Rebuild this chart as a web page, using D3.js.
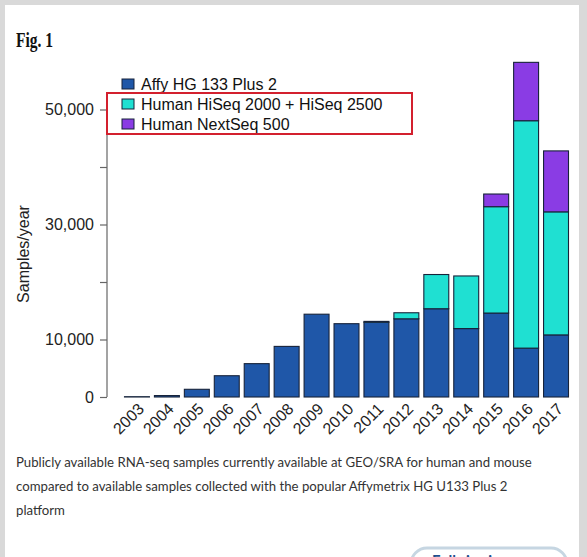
<!DOCTYPE html>
<html><head><meta charset="utf-8">
<script src="https://cdn.jsdelivr.net/npm/d3@7"></script>
<style>html,body{margin:0;padding:0;background:#fff;overflow:hidden}</style>
</head><body>
<svg id="c" width="587" height="557"></svg>
<script>
const years = ["2003","2004","2005","2006","2007","2008","2009","2010","2011","2012","2013","2014","2015","2016","2017"];
const affy    = [50, 250, 1340, 3700, 5800, 8800, 14400, 12750, 13000, 13600, 15350, 11900, 14600, 8500, 10800];
const hiseq   = [0, 0, 0, 0, 0, 0, 0, 0, 150, 1050, 5950, 9150, 18500, 39550, 21400];
const nextseq = [0, 0, 0, 0, 0, 0, 0, 0, 0, 0, 0, 0, 2200, 10150, 10600];
const seriesNames = ["Affy HG 133 Plus 2", "Human HiSeq 2000 + HiSeq 2500", "Human NextSeq 500"];
const seriesColors = ["#1f57a8", "#1fe0d2", "#8a3ce4"];
const yTicks = [0, 10000, 20000, 30000, 40000, 50000];
const yLabelled = [0, 10000, 30000, 50000];
const caption = ["Publicly available RNA-seq samples currently available at GEO/SRA for human and mouse",
                 "compared to available samples collected with the popular Affymetrix HG U133 Plus 2",
                 "platform"];

const svg = d3.select("#c");
// page frame
svg.append("rect").attr("x",0).attr("y",0).attr("width",587).attr("height",557).attr("fill","#d9d9d9");
svg.append("rect").attr("x",5).attr("y",5).attr("width",574).attr("height",560).attr("fill","#fff");

svg.append("text").attr("x",16).attr("y",47).attr("font-family","Liberation Serif, serif")
  .attr("font-weight","bold").attr("font-size",20).attr("fill","#111")
  .attr("textLength",37).attr("lengthAdjust","spacingAndGlyphs").text("Fig. 1");

const x = d3.scaleBand().domain(years).range([122, 571]).paddingInner(1/6).paddingOuter(1/12);
const y = d3.scaleLinear().domain([0, 60000]).range([397, 52]);

const data = years.map((yr,i)=>({year:yr, a:affy[i], h:hiseq[i], n:nextseq[i]}));
const stack = d3.stack().keys(["a","h","n"])(data);

const g = svg.append("g");
stack.forEach((layer, li) => {
  g.selectAll(null).data(layer.filter(d => d[1] - d[0] > 0)).enter().append("rect")
    .attr("x", d => x(d.data.year))
    .attr("width", x.bandwidth())
    .attr("y", d => y(d[1]))
    .attr("height", d => y(d[0]) - y(d[1]))
    .attr("fill", seriesColors[li])
    .attr("stroke", "#17233a").attr("stroke-width", 1.1);
});

// y axis
const ax = svg.append("g").attr("transform","translate(107,0)")
  .call(d3.axisLeft(y).tickValues(yTicks).tickSize(7).tickPadding(6)
    .tickFormat(d => yLabelled.includes(d) ? d3.format(",")(d) : ""));
ax.select(".domain").remove();
ax.selectAll(".tick line").attr("stroke","#666").attr("stroke-width",1.2);
ax.selectAll(".tick text").attr("font-family","Liberation Sans, Arial, sans-serif").attr("font-size",16).attr("fill","#222");
svg.append("line").attr("x1",107).attr("x2",107).attr("y1",y(0)).attr("y2",y(50000))
  .attr("stroke","#666").attr("stroke-width",1.2);

svg.append("text").attr("transform","translate(29,254) rotate(-90)").attr("text-anchor","middle")
  .attr("font-family","Liberation Sans, Arial, sans-serif").attr("font-size",16).attr("fill","#222").text("Samples/year");

// x labels
svg.append("g").selectAll("text").data(years).enter().append("text")
  .attr("transform", d => `translate(${x(d) + x.bandwidth()/2 + 8},${410}) rotate(-45)`)
  .attr("text-anchor","end")
  .attr("font-family","Liberation Sans, Arial, sans-serif").attr("font-size",16).attr("fill","#222")
  .text(d => d);

// legend
const leg = svg.append("g");
leg.append("rect").attr("x",107).attr("y",93).attr("width",305).attr("height",41).attr("fill","#fff");
seriesNames.forEach((nm,i) => {
  leg.append("rect").attr("x",122).attr("y",79 + i*20).attr("width",12).attr("height",10)
    .attr("fill",seriesColors[i]).attr("stroke","#17233a").attr("stroke-width",1);
  leg.append("text").attr("x",141).attr("y",90 + i*20)
    .attr("font-family","Liberation Sans, Arial, sans-serif").attr("font-size",16).attr("fill","#111").text(nm);
});
leg.append("rect").attr("x",107).attr("y",93).attr("width",305).attr("height",41)
  .attr("fill","none").attr("stroke","#d3202e").attr("stroke-width",2);

// caption
caption.forEach((t,i) => {
  svg.append("text").attr("x",16).attr("y",467 + i*24)
    .attr("font-family","Lato, 'Open Sans', sans-serif").attr("font-size",13.2).attr("fill","#333").text(t);
});

// button
svg.append("rect").attr("x",411).attr("y",548).attr("width",156).attr("height",40).attr("rx",16)
  .attr("fill","#fff").attr("stroke","#c6d6e2").attr("stroke-width",3);
svg.append("text").attr("x",432).attr("y",566).attr("font-family","Lato, sans-serif").attr("font-weight","bold")
  .attr("font-size",15).attr("fill","#1f4f8e").text("Full size image  \u00bb");
</script>
</body></html>
